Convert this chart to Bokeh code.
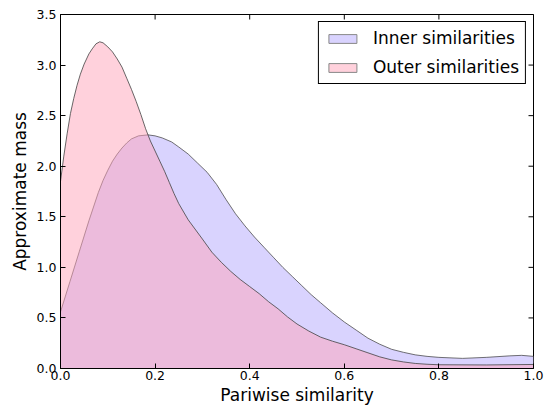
import math
from bokeh.plotting import figure
from bokeh.models import Range1d, FixedTicker, Legend, LegendItem, PrintfTickFormatter
from bokeh.embed import file_html
from bokeh.resources import INLINE

# ---- data ----
inner_x = [0.0, 0.02, 0.04, 0.06, 0.08, 0.09, 0.10, 0.11, 0.12, 0.13, 0.14, 0.15,
           0.165, 0.185, 0.20, 0.215, 0.235, 0.25, 0.27, 0.29, 0.31, 0.33, 0.35,
           0.37, 0.39, 0.41, 0.43, 0.45, 0.47, 0.49, 0.51, 0.53, 0.55, 0.575, 0.60,
           0.625, 0.65, 0.675, 0.70, 0.725, 0.75, 0.775, 0.80, 0.85, 0.90, 0.95,
           0.975, 1.0]
inner_y = [0.56, 0.86, 1.16, 1.46, 1.74, 1.86, 1.96, 2.05, 2.12, 2.18, 2.23, 2.27,
           2.30, 2.31, 2.30, 2.28, 2.24, 2.19, 2.12, 2.03, 1.94, 1.82, 1.67,
           1.53, 1.41, 1.30, 1.20, 1.10, 1.00, 0.91, 0.82, 0.73, 0.65, 0.55, 0.46,
           0.38, 0.30, 0.24, 0.19, 0.16, 0.135, 0.12, 0.11, 0.10, 0.11, 0.125,
           0.13, 0.12]

outer_x = [0.0, 0.007, 0.014, 0.021, 0.028, 0.035, 0.042, 0.05, 0.06, 0.067, 0.075,
           0.083, 0.09, 0.10, 0.11, 0.12, 0.13, 0.14, 0.15, 0.16, 0.17, 0.18, 0.19,
           0.20, 0.21, 0.22, 0.23, 0.24, 0.25, 0.27, 0.30, 0.32, 0.34, 0.36, 0.38,
           0.40, 0.42, 0.44, 0.46, 0.48, 0.50, 0.525, 0.55, 0.575, 0.60, 0.625,
           0.65, 0.675, 0.70, 0.725, 0.75, 0.775, 0.80, 0.90, 1.0]
outer_y = [1.85, 2.10, 2.32, 2.52, 2.67, 2.80, 2.91, 3.01, 3.11, 3.16, 3.21,
           3.23, 3.22, 3.18, 3.13, 3.06, 2.98, 2.87, 2.76, 2.64, 2.51, 2.37, 2.25,
           2.15, 2.05, 1.95, 1.84, 1.73, 1.63, 1.47, 1.28, 1.15, 1.05, 0.96, 0.88,
           0.81, 0.74, 0.66, 0.59, 0.51, 0.44, 0.37, 0.31, 0.27, 0.235, 0.195,
           0.155, 0.115, 0.085, 0.065, 0.05, 0.042, 0.037, 0.035, 0.04]

x_ticks = [0.0, 0.2, 0.4, 0.6, 0.8, 1.0]
y_ticks = [0.0, 0.5, 1.0, 1.5, 2.0, 2.5, 3.0, 3.5]
labels = ["Inner similarities", "Outer similarities"]

INNER_FILL = "#D9D3FE"
OUTER_FILL = "#FFA3B9"
EDGE = "#444444"
FONT = "DejaVu Sans"

p = figure(width=549, height=407, x_range=Range1d(0, 1), y_range=Range1d(0, 3.5),
           output_backend="svg", toolbar_location=None,
           min_border_left=60, min_border_top=14, min_border_right=16, min_border_bottom=39)
p.background_fill_color = "white"
p.border_fill_color = "white"
p.grid.visible = False
p.outline_line_color = "black"
p.outline_line_width = 1
p.outline_line_alpha = 1

# fills and outlines
p.varea(x=inner_x, y1=[0] * len(inner_x), y2=inner_y, fill_color=INNER_FILL, fill_alpha=1.0)
p.line(inner_x, inner_y, line_color=EDGE, line_width=1, line_alpha=0.75)
p.varea(x=outer_x, y1=[0] * len(outer_x), y2=outer_y, fill_color=OUTER_FILL, fill_alpha=0.5)
p.line(outer_x, outer_y, line_color=EDGE, line_width=1, line_alpha=0.8)

# mirrored inward tick marks on the top and right frame edges (clipped to the frame)
p.scatter(x=x_ticks, y=[y_ticks[-1]] * len(x_ticks), marker="dash", angle=math.pi / 2,
          size=10, line_color="black", line_width=1)
p.scatter(x=[x_ticks[-1]] * len(y_ticks), y=y_ticks, marker="dash",
          size=10, line_color="black", line_width=1)

# legend proxies
nan = float("nan")
r_in = p.quad(left=[nan], right=[nan], top=[nan], bottom=[nan], fill_color=INNER_FILL,
              fill_alpha=1.0, line_color="#888888", line_width=1)
r_out = p.quad(left=[nan], right=[nan], top=[nan], bottom=[nan], fill_color=OUTER_FILL,
               fill_alpha=0.5, line_color="#888888", line_width=1)
legend = Legend(items=[LegendItem(label=labels[0], renderers=[r_in]),
                       LegendItem(label=labels[1], renderers=[r_out])],
                location="top_right", margin=7, padding=6, spacing=9,
                glyph_width=35, glyph_height=11, label_height=19, label_standoff=13,
                label_text_font=FONT, label_text_font_size="17px", label_text_color="black",
                border_line_color="black", border_line_width=1, border_line_alpha=1,
                background_fill_color="white", background_fill_alpha=1)
p.add_layout(legend)

# axes
for ax in (p.xaxis[0], p.yaxis[0]):
    ax.major_tick_in = 5
    ax.major_tick_out = 0
    ax.minor_tick_in = 0
    ax.minor_tick_out = 0
    ax.axis_line_color = "black"
    ax.major_tick_line_color = "black"
    ax.major_label_text_font = FONT
    ax.major_label_text_font_size = "12.5px"
    ax.major_label_text_color = "black"
    ax.axis_label_text_font = FONT
    ax.axis_label_text_font_size = "17px"
    ax.axis_label_text_font_style = "normal"
    ax.axis_label_text_color = "black"
    ax.formatter = PrintfTickFormatter(format="%.1f")

p.xaxis[0].ticker = FixedTicker(ticks=x_ticks)
p.yaxis[0].ticker = FixedTicker(ticks=y_ticks)
p.xaxis[0].axis_label = "Pariwise similarity"
p.yaxis[0].axis_label = "Approximate mass"
p.xaxis[0].major_label_standoff = 2
p.xaxis[0].axis_label_standoff = 2
p.yaxis[0].major_label_standoff = 4
p.yaxis[0].axis_label_standoff = 4

open("out.html", "w").write(file_html(p, INLINE))
